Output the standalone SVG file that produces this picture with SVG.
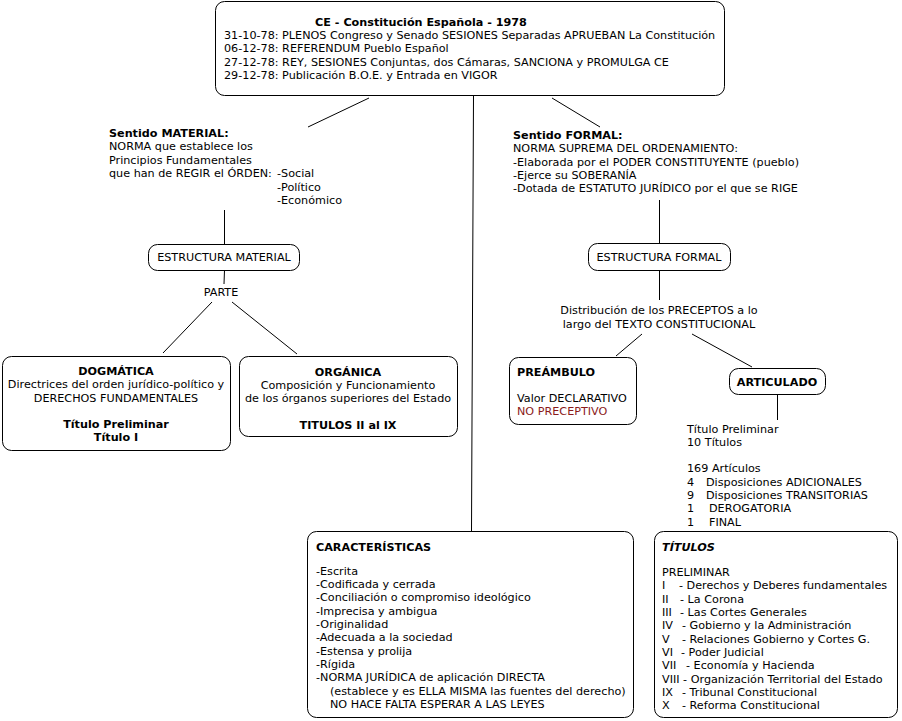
<svg xmlns="http://www.w3.org/2000/svg" width="902" height="721" viewBox="0 0 902 721">
<style>
text{font-family:"DejaVu Sans","Verdana",sans-serif;font-size:11.2px;fill:#000}
.b{font-weight:bold}
.c{text-anchor:middle}
.box{fill:#fff;stroke:#000;stroke-width:1}
.ln{stroke:#000;stroke-width:1;fill:none}
.red{fill:#8b1a1a}
</style>
<rect width="902" height="721" fill="#fff"/>
<g id="connectors">
<line class="ln" x1="308" y1="127" x2="369" y2="98"/>
<line class="ln" x1="473.5" y1="96" x2="471.5" y2="531"/>
<line class="ln" x1="552" y1="98" x2="600" y2="127"/>
<line class="ln" x1="224.5" y1="210" x2="224.5" y2="244"/>
<line class="ln" x1="224.5" y1="270" x2="224" y2="284"/>
<line class="ln" x1="212" y1="302" x2="163" y2="353"/>
<line class="ln" x1="232" y1="302" x2="297" y2="354"/>
<line class="ln" x1="659.5" y1="200" x2="659.5" y2="243"/>
<line class="ln" x1="659.5" y1="270" x2="659.5" y2="300"/>
<line class="ln" x1="642" y1="334" x2="616" y2="356"/>
<line class="ln" x1="692" y1="334" x2="752" y2="367"/>
<line class="ln" x1="777.5" y1="394" x2="777.5" y2="420"/>
</g>
<g id="ce">
<rect class="box" x="215.5" y="1.5" width="509" height="94" rx="9"/>
<text class="b c" x="421" y="26">CE - Constitución Española - 1978</text>
<text x="224" y="39">31-10-78: PLENOS Congreso y Senado SESIONES Separadas APRUEBAN La Constitución</text>
<text x="224" y="52">06-12-78: REFERENDUM Pueblo Español</text>
<text x="224" y="66">27-12-78: REY, SESIONES Conjuntas, dos Cámaras, SANCIONA y PROMULGA CE</text>
<text x="224" y="79">29-12-78: Publicación B.O.E. y Entrada en VIGOR</text>
</g>
<g id="material">
<text class="b" x="109" y="137">Sentido MATERIAL:</text>
<text x="109" y="150">NORMA que establece los</text>
<text x="109" y="164">Principios Fundamentales</text>
<text x="109" y="177">que han de REGIR el ÓRDEN:</text>
<text x="277" y="177">-Social</text>
<text x="277" y="191">-Político</text>
<text x="277" y="204">-Económico</text>
</g>
<g id="formal">
<text class="b" x="513" y="139">Sentido FORMAL:</text>
<text x="513" y="152">NORMA SUPREMA DEL ORDENAMIENTO:</text>
<text x="513" y="166">-Elaborada por el PODER CONSTITUYENTE (pueblo)</text>
<text x="513" y="179">-Ejerce su SOBERANÍA</text>
<text x="513" y="192">-Dotada de ESTATUTO JURÍDICO por el que se RIGE</text>
</g>
<g id="estructura-material">
<rect class="box" x="148.5" y="244.5" width="151" height="26" rx="9"/>
<text class="c" x="224" y="261">ESTRUCTURA MATERIAL</text>
</g>
<g id="parte">
<text class="c" x="221" y="296">PARTE</text>
</g>
<g id="dogmatica">
<rect class="box" x="2.5" y="356.5" width="228" height="94" rx="9"/>
<text class="b c" x="116" y="375">DOGMÁTICA</text>
<text class="c" x="116" y="388">Directrices del orden jurídico-político y</text>
<text class="c" x="116" y="402">DERECHOS FUNDAMENTALES</text>
<text class="b c" x="116" y="428">Título Preliminar</text>
<text class="b c" x="116" y="441">Título I</text>
</g>
<g id="organica">
<rect class="box" x="239.5" y="356.5" width="218" height="80" rx="9"/>
<text class="b c" x="348" y="376">ORGÁNICA</text>
<text class="c" x="348" y="389">Composición y Funcionamiento</text>
<text class="c" x="348" y="402">de los órganos superiores del Estado</text>
<text class="b c" x="348" y="429">TITULOS II al IX</text>
</g>
<g id="estructura-formal">
<rect class="box" x="588.5" y="243.5" width="142" height="27" rx="9"/>
<text class="c" x="659" y="261">ESTRUCTURA FORMAL</text>
</g>
<g id="distribucion">
<text class="c" x="659" y="314">Distribución de los PRECEPTOS a lo</text>
<text class="c" x="659" y="328">largo del TEXTO CONSTITUCIONAL</text>
</g>
<g id="preambulo">
<rect class="box" x="509.5" y="357.5" width="127" height="67" rx="9"/>
<text class="b" x="517" y="376">PREÁMBULO</text>
<text x="517" y="402">Valor DECLARATIVO</text>
<text class="red" x="517" y="415">NO PRECEPTIVO</text>
</g>
<g id="articulado">
<rect class="box" x="729.5" y="368.5" width="96" height="26" rx="9"/>
<text class="b c" x="777" y="386">ARTICULADO</text>
</g>
<g id="articulado-detalle">
<text x="687" y="433">Título Preliminar</text>
<text x="687" y="446">10 Títulos</text>
<text x="687" y="472">169 Artículos</text>
<text x="687" y="486">4</text><text x="706" y="486">Disposiciones ADICIONALES</text>
<text x="687" y="499">9</text><text x="706" y="499">Disposiciones TRANSITORIAS</text>
<text x="687" y="512">1</text><text x="709" y="512">DEROGATORIA</text>
<text x="687" y="526">1</text><text x="709" y="526">FINAL</text>
</g>
<g id="caracteristicas">
<rect class="box" x="307.5" y="531.5" width="326" height="186" rx="9"/>
<text class="b" x="316" y="551">CARACTERÍSTICAS</text>
<text x="316" y="575">-Escrita</text>
<text x="316" y="588">-Codificada y cerrada</text>
<text x="316" y="601">-Conciliación o compromiso ideológico</text>
<text x="316" y="615">-Imprecisa y ambigua</text>
<text x="316" y="628">-Originalidad</text>
<text x="316" y="641">-Adecuada a la sociedad</text>
<text x="316" y="655">-Estensa y prolija</text>
<text x="316" y="668">-Rígida</text>
<text x="316" y="681">-NORMA JURÍDICA de aplicación DIRECTA</text>
<text x="330" y="695">(establece y es ELLA MISMA las fuentes del derecho)</text>
<text x="330" y="708">NO HACE FALTA ESPERAR A LAS LEYES</text>
</g>
<g id="titulos">
<rect class="box" x="654.5" y="531.5" width="243" height="186" rx="9"/>
<text class="b" x="662" y="551" font-style="italic">TÍTULOS</text>
<text x="662" y="576">PRELIMINAR</text>
<text x="662" y="589">I</text><text x="679" y="589">- Derechos y Deberes fundamentales</text>
<text x="662" y="603">II</text><text x="680" y="603">- La Corona</text>
<text x="662" y="616">III</text><text x="680" y="616">- Las Cortes Generales</text>
<text x="662" y="629">IV</text><text x="682" y="629">- Gobierno y la Administración</text>
<text x="662" y="643">V</text><text x="682" y="643">- Relaciones Gobierno y Cortes G.</text>
<text x="662" y="656">VI</text><text x="681" y="656">- Poder Judicial</text>
<text x="662" y="669">VII</text><text x="686" y="669">- Economía y Hacienda</text>
<text x="662" y="683">VIII - Organización Territorial del Estado</text>
<text x="662" y="696">IX</text><text x="682" y="696">- Tribunal Constitucional</text>
<text x="662" y="709">X</text><text x="682" y="709">- Reforma Constitucional</text>
</g>
</svg>
